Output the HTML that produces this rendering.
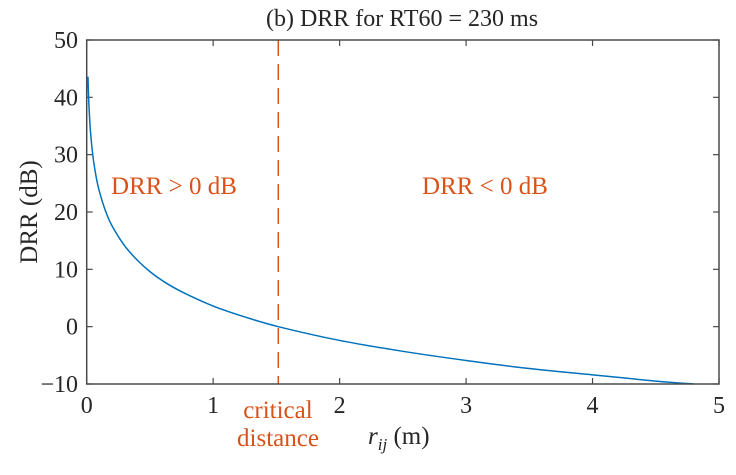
<!DOCTYPE html>
<html><head><meta charset="utf-8"><style>
body{margin:0;background:#fff}
svg text{font-family:"Liberation Serif",serif;fill:#262626}
</style></head><body>
<svg width="736" height="470" viewBox="0 0 736 470">
<g id="ticks"></g>
<path id="curve" fill="none" stroke="#0072BD" stroke-width="1.5"/>
<line id="crit" stroke="#D95319" stroke-width="1.5" stroke-dasharray="16,8"/>
<rect x="86.7" y="40" width="632.3" height="344" fill="none" stroke="#4a4a4a" stroke-width="1.5"/>
<text x="402" y="26" font-size="24" text-anchor="middle">(b) DRR for RT60 = 230 ms</text>
<text x="174" y="194" font-size="25" text-anchor="middle" style="fill:#D95319">DRR &gt; 0 dB</text>
<text x="485" y="194" font-size="25" text-anchor="middle" style="fill:#D95319">DRR &lt; 0 dB</text>
<text x="278" y="418" font-size="25" text-anchor="middle" style="fill:#D95319">critical</text>
<text x="278" y="446" font-size="25" text-anchor="middle" style="fill:#D95319">distance</text>
<text x="368" y="444" font-size="25"><tspan font-style="italic">r</tspan><tspan font-style="italic" font-size="17" dy="6">ij</tspan><tspan dy="-6"> (m)</tspan></text>
<text transform="translate(37,212) rotate(-90)" font-size="25" text-anchor="middle">DRR (dB)</text>
</svg>
<script>
const xTicks=[0,1,2,3,4,5];
const yTicks=[-10,0,10,20,30,40,50];
const rValues=[0.01,0.015,0.02,0.03,0.05,0.075,0.1,0.15,0.2,0.3,0.4,0.5,0.6,0.75,1,1.25,1.515,2,2.5,3,3.5,4,4.5,4.8];
const drrValues=[43.6,40.1,37.6,34.0,29.6,26.1,23.6,20.1,17.6,14.1,11.6,9.6,8.0,6.1,3.6,1.7,0,-2.4,-4.3,-5.9,-7.3,-8.4,-9.5,-10];
const criticalDistance=[1.515];
const L=86.7,R=719,T=40,B=384;
const sx=v=>L+(v-0)/5*(R-L);
const sy=v=>B-(v+10)/60*(B-T);
const NS="http://www.w3.org/2000/svg";
const g=document.getElementById('ticks');
function mk(tag,attrs){const e=document.createElementNS(NS,tag);for(const k in attrs)e.setAttribute(k,attrs[k]);g.appendChild(e);return e;}
xTicks.forEach(v=>{
  const x=sx(v);
  const a=mk('line',{x1:x,x2:x,y1:B,y2:B-6,stroke:'#4a4a4a','stroke-width':1.2});
  
  
  const b=mk('line',{x1:x,x2:x,y1:T,y2:T+6,stroke:'#4a4a4a','stroke-width':1.2});
  
  
  const t=mk('text',{x:x,y:413,'font-size':24,'text-anchor':'middle'});
  t.textContent=v;
  
  
});
yTicks.forEach(v=>{
  const y=sy(v);
  const a=mk('line',{x1:L,x2:L+6,y1:y,y2:y,stroke:'#4a4a4a','stroke-width':1.2});
  
  
  const b=mk('line',{x1:R,x2:R-6,y1:y,y2:y,stroke:'#4a4a4a','stroke-width':1.2});
  
  
  const t=mk('text',{x:78,y:y+8,'font-size':24,'text-anchor':'end'});
  t.textContent=v<0?'\u2212'+Math.abs(v):v;
  
  
});
const P=rValues.map((r,i)=>[sx(r),sy(drrValues[i])]);
let d='M'+P[0][0].toFixed(2)+','+P[0][1].toFixed(2);
for(let i=0;i<P.length-1;i++){
  const p0=P[Math.max(0,i-1)],p1=P[i],p2=P[i+1],p3=P[Math.min(P.length-1,i+2)];
  const c1=[p1[0]+(p2[0]-p0[0])/6,p1[1]+(p2[1]-p0[1])/6];
  const c2=[p2[0]-(p3[0]-p1[0])/6,p2[1]-(p3[1]-p1[1])/6];
  d+='C'+c1.map(n=>n.toFixed(2))+' '+c2.map(n=>n.toFixed(2))+' '+p2.map(n=>n.toFixed(2));
}
document.getElementById('curve').setAttribute('d',d);
const c=document.getElementById('crit');
c.setAttribute('x1',sx(criticalDistance[0]));c.setAttribute('x2',sx(criticalDistance[0]));
c.setAttribute('y1',T);c.setAttribute('y2',B);
</script>
</body></html>
